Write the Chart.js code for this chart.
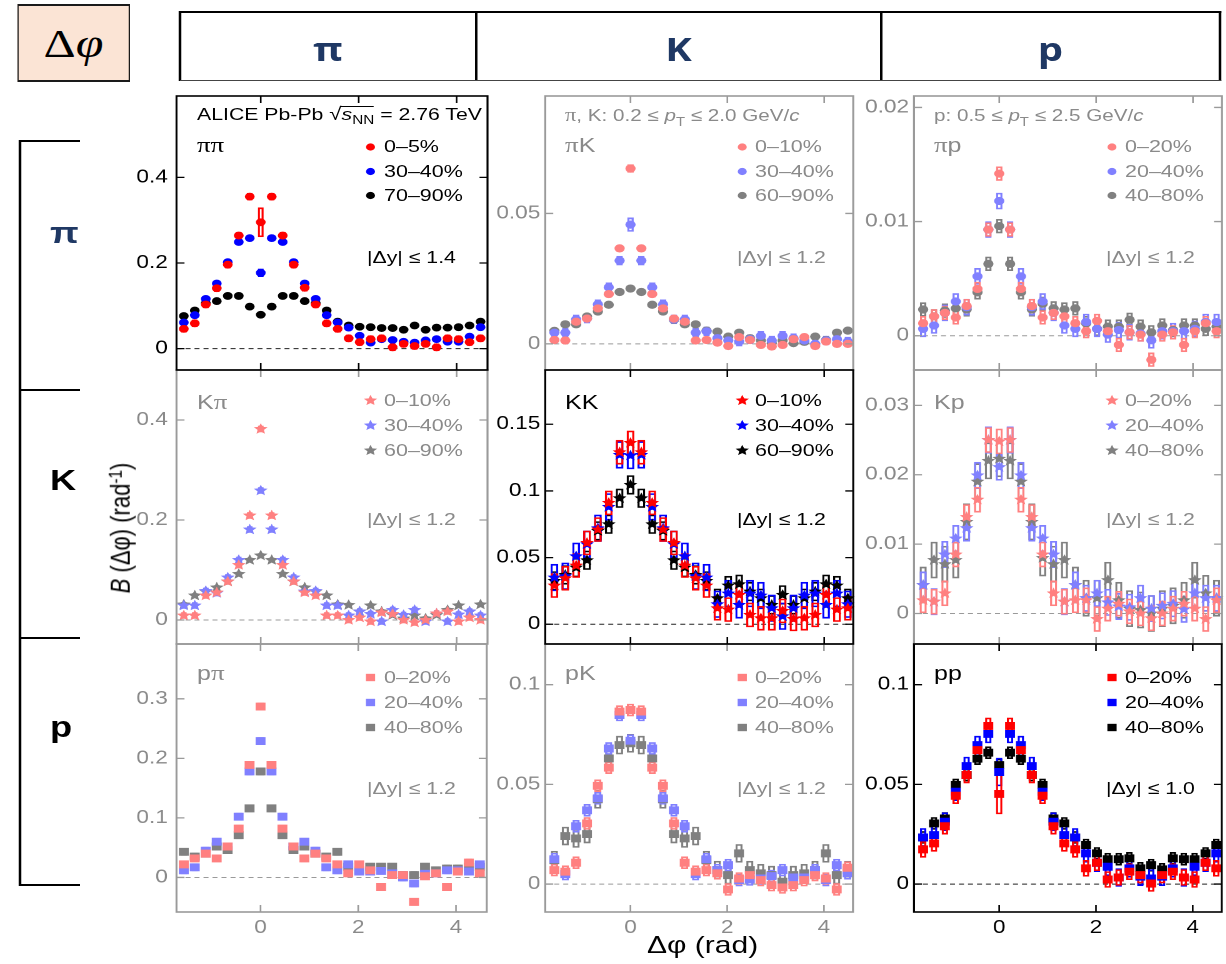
<!DOCTYPE html>
<html>
<head>
<meta charset="utf-8">
<script src="https://cdn.jsdelivr.net/npm/chart.js@4.4.1/dist/chart.umd.min.js"></script>
<style>
  html, body { margin: 0; padding: 0; background: #fff; }
  body { width: 1226px; height: 964px; overflow: hidden; position: relative; }
  #stage { position: absolute; left: 0; top: 0; width: 980.8px; height: 964px;
           transform: scaleX(1.25); transform-origin: 0 0;
           font-family: "Liberation Sans", Arial, sans-serif; }
  .abs { position: absolute; white-space: nowrap; z-index: 5; }
  canvas { position: absolute; }
  .sym { font-family: "Liberation Serif", serif; font-size: 1.08em; }
  .sub { position: relative; top: 0.3em; font-size: 0.72em; }
  .ov { position: relative; }
  .ov::before { content: ""; position: absolute; left: -1px; right: 0; top: 0.04em; border-top: 1.3px solid currentColor; }
  .line { position: absolute; background: #000; }
</style>
</head>
<body>
<div id="stage"></div>
<script>
// ---- bin centres in Δφ (rad) and axis ticks ----
const dphi = [-1.5708, -1.3464, -1.1220, -0.8976, -0.6732, -0.4488, -0.2244, 0.0000,
               0.2244,  0.4488,  0.6732,  0.8976,  1.1220,  1.3464,  1.5708, 1.7952,
               2.0196,  2.2440,  2.4684,  2.6928,  2.9172,  3.1416,  3.3660, 3.5904,
               3.8148,  4.0392,  4.2636,  4.4880];
const xTicks = [0, 2, 4];

// ---- centrality labels ----
const centPi = ['0–5%', '30–40%', '70–90%'];
const cent10 = ['0–10%', '30–40%', '60–90%'];
const cent20 = ['0–20%', '20–40%', '40–80%'];

// ---- ππ ----
const pipi0005 = [0.046,0.059,0.103,0.141,0.196,0.264,0.355,0.295,0.355,0.264,0.196,0.142,0.103,0.059,0.046,0.024,0.015,0.022,0.024,0.003,0.011,0.006,0.011,0.003,0.024,0.022,0.015,0.024];
const pipi3040 = [0.061,0.078,0.116,0.152,0.202,0.249,0.258,0.177,0.258,0.249,0.202,0.152,0.116,0.078,0.061,0.049,0.030,0.014,0.022,0.020,0.016,0.014,0.019,0.022,0.016,0.016,0.028,0.050];
const pipi7090 = [0.076,0.089,0.106,0.111,0.123,0.123,0.098,0.079,0.098,0.123,0.123,0.111,0.106,0.089,0.063,0.054,0.051,0.050,0.048,0.048,0.044,0.054,0.044,0.049,0.049,0.050,0.054,0.063];
// ---- πK ----
const piK0010 = [0.0015,0.0013,0.0085,0.0097,0.0136,0.0191,0.0366,0.0672,0.0366,0.0191,0.0136,0.0097,0.0085,0.0013,0.0015,0.0005,-0.0008,0.0026,0.0015,-0.0004,-0.0010,-0.0004,0.0018,0.0026,-0.0008,0.0009,0.0000,0.0000];
const piK3040 = [0.0043,0.0043,0.0094,0.0097,0.0152,0.0217,0.0319,0.0457,0.0319,0.0217,0.0152,0.0094,0.0094,0.0043,0.0048,0.0022,0.0013,0.0009,0.0018,0.0031,0.0013,0.0031,0.0022,0.0013,0.0000,0.0013,0.0018,0.0009];
const piK6090 = [0.0050,0.0075,0.0075,0.0105,0.0124,0.0150,0.0199,0.0212,0.0199,0.0150,0.0124,0.0092,0.0075,0.0075,0.0051,0.0047,0.0028,0.0043,0.0022,0.0013,0.0003,0.0013,0.0003,0.0008,0.0028,0.0015,0.0043,0.0051];
// ---- πp ----
const pip0020 = [0.0011,0.0017,0.0020,0.0016,0.0026,0.0041,0.0093,0.0142,0.0093,0.0041,0.0026,0.0016,0.0020,0.0017,0.0011,0.0004,0.0013,0.0004,-0.0008,0.0003,0.0001,-0.0021,0.0001,0.0003,-0.0008,0.0004,0.0011,0.0004];
const pip2040 = [0.0006,0.0009,0.0020,0.0030,0.0025,0.0052,0.0093,0.0118,0.0093,0.0052,0.0025,0.0030,0.0020,0.0009,0.0006,0.0012,0.0006,0.0001,0.0005,0.0003,0.0002,-0.0004,0.0004,0.0004,0.0004,0.0006,0.0012,0.0012];
const pip4080 = [0.0023,0.0017,0.0022,0.0024,0.0023,0.0038,0.0063,0.0096,0.0063,0.0038,0.0023,0.0028,0.0024,0.0023,0.0024,0.0011,0.0006,0.0008,0.0008,0.0014,0.0008,0.0003,0.0009,0.0005,0.0009,0.0009,0.0006,0.0008];
// ---- Kπ ----
const Kpi0010 = [0.009,0.009,0.049,0.055,0.077,0.110,0.209,0.382,0.209,0.110,0.077,0.055,0.049,0.009,0.009,0.000,0.005,-0.003,0.015,0.012,0.000,-0.005,0.000,0.013,0.017,-0.003,0.005,0.000];
const Kpi3040 = [0.029,0.029,0.058,0.054,0.085,0.120,0.181,0.259,0.181,0.120,0.085,0.057,0.058,0.029,0.029,0.009,0.017,0.012,-0.003,0.020,0.010,0.020,-0.003,0.013,-0.003,0.011,0.017,0.009];
const Kpi6090 = [0.031,0.049,0.057,0.065,0.077,0.092,0.120,0.129,0.120,0.092,0.077,0.065,0.057,0.049,0.031,0.030,0.017,0.029,0.017,0.010,0.003,0.009,0.003,0.010,0.020,0.029,0.017,0.031];
// ---- KK ----
const KK0010 = [0.029,0.0345,0.044,0.061,0.071,0.091,0.129,0.136,0.129,0.091,0.071,0.061,0.044,0.0345,0.029,0.012,0.011,0.022,0.007,0.0045,0.0045,0.010,0.004,0.0045,0.007,0.022,0.011,0.012];
const KK3040 = [0.035,0.036,0.051,0.060,0.072,0.088,0.127,0.1265,0.127,0.088,0.072,0.060,0.051,0.036,0.035,0.015,0.023,0.0145,0.023,0.0215,0.012,0.006,0.012,0.0215,0.023,0.0145,0.023,0.015];
const KK6090 = [0.0325,0.037,0.0425,0.048,0.070,0.075,0.0945,0.1045,0.0945,0.075,0.070,0.048,0.0425,0.037,0.0325,0.0195,0.029,0.030,0.0245,0.0195,0.0145,0.022,0.0145,0.0195,0.0245,0.030,0.029,0.0195];
// ---- Kp ----
const Kp0020 = [0.0019,0.0017,0.0029,0.0085,0.0139,0.0164,0.0250,0.0248,0.0250,0.0164,0.0139,0.0085,0.0029,0.0017,0.0019,0.0019,-0.0008,0.0007,0.0014,0.0003,0.0000,-0.0007,0.0000,0.0007,0.0014,0.0007,-0.0008,0.0019];
const Kp2040 = [0.0041,0.0017,0.0085,0.0108,0.0123,0.0199,0.0250,0.0211,0.0250,0.0199,0.0123,0.0108,0.0085,0.0017,0.0041,0.0022,0.0029,0.0016,0.0010,0.0009,0.0022,0.0007,0.0011,0.0014,0.0006,0.0029,0.0022,0.0022];
const Kp4080 = [0.0041,0.0077,0.0071,0.0077,0.0132,0.0190,0.0220,0.0223,0.0220,0.0190,0.0132,0.0080,0.0071,0.0077,0.0041,0.0022,0.0022,0.0048,0.0019,0.0007,0.0005,0.0000,0.0007,0.0011,0.0019,0.0048,0.0029,0.0022];
// ---- pπ ----
const ppi0020 = [0.022,0.032,0.040,0.032,0.052,0.082,0.189,0.287,0.189,0.082,0.052,0.032,0.040,0.032,0.022,0.007,0.022,0.012,-0.016,0.004,0.004,-0.041,0.002,0.007,-0.016,0.010,0.025,0.007];
const ppi2040 = [0.012,0.017,0.045,0.060,0.052,0.102,0.178,0.229,0.178,0.102,0.052,0.060,0.045,0.017,0.012,0.022,0.010,0.010,0.011,0.007,0.000,-0.010,0.006,0.007,0.012,0.012,0.010,0.022];
const ppi4080 = [0.043,0.035,0.040,0.052,0.046,0.071,0.116,0.178,0.116,0.071,0.046,0.052,0.040,0.035,0.043,0.018,0.012,0.018,0.018,0.018,0.004,0.004,0.018,0.012,0.015,0.015,0.018,0.018];
// ---- pK ----
const pK0020 = [0.0070,0.0062,0.0107,0.0304,0.0493,0.0584,0.0865,0.0873,0.0865,0.0584,0.0493,0.0304,0.0107,0.0062,0.0070,0.0054,-0.0027,0.0028,0.0045,0.0020,-0.0005,-0.0017,-0.0005,0.0020,0.0045,0.0028,-0.0027,0.0082];
const pK2040 = [0.0125,0.0050,0.0290,0.0370,0.0430,0.0680,0.0848,0.0719,0.0848,0.0680,0.0430,0.0370,0.0290,0.0050,0.0125,0.0070,0.0095,0.0020,0.0023,0.0028,0.0040,0.0070,0.0033,0.0033,0.0070,0.0020,0.0095,0.0054];
const pK4080 = [0.0120,0.0241,0.0229,0.0251,0.0425,0.0630,0.0697,0.0706,0.0697,0.0630,0.0425,0.0251,0.0229,0.0241,0.0120,0.0070,0.0045,0.0154,0.0070,0.0054,0.0045,0.0012,0.0045,0.0054,0.0070,0.0154,0.0045,0.0070];
// ---- pp ----
const pp0020 = [0.0174,0.0204,0.0290,0.0443,0.0547,0.0672,0.0793,0.0452,0.0793,0.0672,0.0547,0.0443,0.0290,0.0204,0.0174,0.0079,0.0107,0.0023,0.0033,0.0062,0.0045,0.0003,0.0045,0.0062,0.0033,0.0023,0.0107,0.0079];
const pp2040 = [0.0234,0.0246,0.0313,0.0463,0.0592,0.0697,0.0753,0.0562,0.0753,0.0697,0.0592,0.0463,0.0313,0.0246,0.0234,0.0154,0.0107,0.0087,0.0033,0.0079,0.0037,0.0028,0.0037,0.0079,0.0033,0.0087,0.0107,0.0154];
const pp4080 = [0.0234,0.0304,0.0329,0.0497,0.0547,0.0629,0.0659,0.0597,0.0659,0.0629,0.0547,0.0497,0.0329,0.0304,0.0234,0.0196,0.0154,0.0125,0.0125,0.0129,0.0079,0.0095,0.0074,0.0129,0.0125,0.0125,0.0154,0.0196];

// ---- systematic uncertainties (half height of the boxes), per centrality ----
const sysPiPi = [0.008, 0.006, 0.004],   sysPiPiPeak = [0.034, 0.009, 0.004];
const sysPiK  = [0.0012, 0.0017, 0.001], sysPiKPeak  = [0.0015, 0.0026, 0.001];
const sysPip  = [0.0006, 0.0007, 0.0006];
const sysKpi  = [0.006, 0.006, 0.004];
const sysKK   = [0.009, 0.010, 0.007];
const sysKp   = [0.0018, 0.0019, 0.0026];
const sysPpi  = [0.006, 0.006, 0.006];
const sysPK   = [0.003, 0.003, 0.0045];
const sysPP   = [0.004, 0.0045, 0.003],  sysPPPeak   = [0.010, 0.007, 0.003];

// ---- y-axis ticks per panel ----
const yTicksPiPi = [0, 0.2, 0.4];
const yTicksPiK  = [0, 0.05];
const yTicksPip  = [0, 0.01, 0.02];
const yTicksKpi  = [0, 0.2, 0.4];
const yTicksKK   = [0, 0.05, 0.1, 0.15];
const yTicksKp   = [0, 0.01, 0.02, 0.03];
const yTicksPpi  = [0, 0.1, 0.2, 0.3];
const yTicksPK   = [0, 0.05, 0.1];
const yTicksPP   = [0, 0.05, 0.1];

// ---------------------------------------------------------------
const S = 1.25;                       // horizontal stretch of the whole figure
const stage = document.getElementById('stage');
const colL = [177, 545, 914], colR = [488, 853, 1222];
const rowT = [96, 370, 644],  rowB = [370, 644, 912];
const xRange = [[-1.72, 4.63], [-1.76, 4.60], [-1.76, 4.60]];
const FULL  = ['#ff0000', '#0000ff', '#000000'];
const FADED = ['#ff8080', '#8080ff', '#808080'];
const GREY_TXT = '#8a8a8a';
const SANS = '"Liberation Sans", Arial, sans-serif';

const legendMarkX = [371, 742, 1112], legendTextX = [384, 755, 1125];
const pairX = [197, 565, 934], dyX = [367, 737, 1106];
const legendBase = [[153, 177.5, 201.5], [406.5, 431.5, 456.5], [683.5, 708.5, 733.5]];
const pairBase = [152, 409, 680], dyBase = [263.5, 525, 794];

const panels = [
  { row:0, col:0, hi:true,  marker:'circle', series:[pipi0005,pipi3040,pipi7090], cents:centPi, yMin:-0.05,  yMax:0.59,  yTicks:yTicksPiPi, sys:sysPiPi, sysPeak:sysPiPiPeak, pair:'<span class="sym">ππ</span>', dy:'1.4', box:4 },
  { row:0, col:1, hi:false, marker:'circle', series:[piK0010,piK3040,piK6090],    cents:cent10, yMin:-0.01,  yMax:0.095, yTicks:yTicksPiK,  sys:sysPiK,  sysPeak:sysPiKPeak,  pair:'<span class="sym">π</span>K', dy:'1.2', box:4.5 },
  { row:0, col:2, hi:false, marker:'circle', series:[pip0020,pip2040,pip4080],    cents:cent20, yMin:-0.003, yMax:0.021, yTicks:yTicksPip,  sys:sysPip,  pair:'<span class="sym">π</span>p', dy:'1.2', box:4.5 },
  { row:1, col:0, hi:false, marker:'star',   series:[Kpi0010,Kpi3040,Kpi6090],    cents:cent10, yMin:-0.048, yMax:0.5,   yTicks:yTicksKpi,  sys:sysKpi,  pair:'K<span class="sym">π</span>', dy:'1.2', box:4 },
  { row:1, col:1, hi:true,  marker:'star',   series:[KK0010,KK3040,KK6090],       cents:cent10, yMin:-0.0148,yMax:0.1907,yTicks:yTicksKK,   sys:sysKK,   pair:'KK', dy:'1.2', box:5.5 },
  { row:1, col:2, hi:false, marker:'star',   series:[Kp0020,Kp2040,Kp4080],       cents:cent20, yMin:-0.0044,yMax:0.0351,yTicks:yTicksKp,   sys:sysKp,   pair:'Kp', dy:'1.2', box:5 },
  { row:2, col:0, hi:false, marker:'rect',   series:[ppi0020,ppi2040,ppi4080],    cents:cent20, yMin:-0.058, yMax:0.392, yTicks:yTicksPpi,  sys:sysPpi,  pair:'p<span class="sym">π</span>', dy:'1.2', box:4.5 },
  { row:2, col:1, hi:false, marker:'rect',   series:[pK0020,pK2040,pK4080],       cents:cent20, yMin:-0.014, yMax:0.1204,yTicks:yTicksPK,   sys:sysPK,   pair:'pK', dy:'1.2', box:5 },
  { row:2, col:2, hi:true,  marker:'rect',   series:[pp0020,pp2040,pp4080],       cents:cent20, yMin:-0.014, yMax:0.1204,yTicks:yTicksPP,   sys:sysPP,   sysPeak:sysPPPeak, pair:'pp', dy:'1.0', box:4.5 }
];

function drawMarker(ctx, kind, x, y, r, color) {
  ctx.save();
  ctx.fillStyle = color;
  ctx.beginPath();
  if (kind === 'circle') {
    ctx.arc(x, y, r, 0, Math.PI * 2);
  } else if (kind === 'rect') {
    const h = r * Math.SQRT1_2;
    ctx.rect(x - h, y - h, 2 * h, 2 * h);
  } else {
    for (let k = 0; k < 10; k++) {
      const a = -Math.PI / 2 + k * Math.PI / 5;
      const rr = k % 2 ? r * 0.46 : r;
      ctx.lineTo(x + rr * Math.cos(a), y + rr * Math.sin(a));
    }
    ctx.closePath();
  }
  ctx.fill();
  ctx.restore();
}

// frame, inner ticks, zero line, star markers and legend symbols
const panelDecor = {
  id: 'panelDecor',
  beforeDatasetsDraw(chart, args, o) {
    const { ctx, chartArea: a, scales: { y } } = chart;
    const y0 = y.getPixelForValue(0);
    ctx.save();
    ctx.strokeStyle = o.zeroColor;
    ctx.lineWidth = 1;
    ctx.setLineDash([4, 3.2]);
    ctx.beginPath(); ctx.moveTo(a.left, y0); ctx.lineTo(a.right, y0); ctx.stroke();
    ctx.restore();
  },
  afterDatasetDraw(chart, args, o) {
    const ds = chart.data.datasets[args.index];
    if (ds.starMarker) {
      args.meta.data.forEach(pt => drawMarker(chart.ctx, 'star', pt.x, pt.y, o.markR, ds.backgroundColor));
    }
  },
  afterDatasetsDraw(chart, args, o) {
    const { ctx, chartArea: a, scales: { x, y } } = chart;
    ctx.save();
    ctx.strokeStyle = o.frameColor;
    ctx.lineWidth = 1.6;
    ctx.strokeRect(a.left, a.top, a.right - a.left, a.bottom - a.top);
    ctx.lineWidth = 1.3;
    ctx.beginPath();
    x.ticks.forEach(t => {
      const px = x.getPixelForValue(t.value);
      ctx.moveTo(px, a.top); ctx.lineTo(px, a.top + 7);
      ctx.moveTo(px, a.bottom); ctx.lineTo(px, a.bottom - 7);
    });
    y.ticks.forEach(t => {
      const py = y.getPixelForValue(t.value);
      ctx.moveTo(a.left, py); ctx.lineTo(a.left + 6.4, py);
      ctx.moveTo(a.right, py); ctx.lineTo(a.right - 6.4, py);
    });
    ctx.stroke();
    ctx.restore();
    o.legend.forEach(l => drawMarker(ctx, o.marker, a.left + l.dx, a.top + l.dy, o.legendR, l.color));
  }
};

function addText(x, base, html, size, color, opt = {}) {
  const d = document.createElement('div');
  d.className = 'abs';
  d.style.left = (x / S) + 'px';
  d.style.top = (base - 0.846 * size) + 'px';
  d.style.fontSize = size + 'px';
  d.style.lineHeight = size + 'px';
  d.style.color = color;
  if (opt.family) d.style.fontFamily = opt.family;
  if (opt.weight) d.style.fontWeight = opt.weight;
  d.innerHTML = html;
  stage.appendChild(d);
  return d;
}

function addLine(x1, y1, x2, y2, w, color) {
  const d = document.createElement('div');
  d.className = 'line';
  const vertical = x1 === x2;
  d.style.left = ((vertical ? x1 - w / 2 : x1) / S) + 'px';
  d.style.top = (vertical ? y1 : y1 - w / 2) + 'px';
  d.style.width = ((vertical ? w : x2 - x1) / S) + 'px';
  d.style.height = (vertical ? y2 - y1 : w) + 'px';
  d.style.background = color || '#000';
  stage.appendChild(d);
}

function buildPanel(p) {
  const L = colL[p.col], R = colR[p.col], T = rowT[p.row], B = rowB[p.row];
  const axisW = 64, padT = 10, padR = 6, padB = p.row === 2 ? 46 : 10;
  const yW = axisW / S, areaW = (R - L) / S;
  const cw = Math.ceil(yW + areaW + padR / S);
  const ch = padT + (B - T) + padB;
  const cv = document.createElement('canvas');
  cv.width = cw; cv.height = ch;
  cv.style.left = ((L - axisW) / S) + 'px';
  cv.style.top = (T - padT) + 'px';
  cv.style.width = cw + 'px';
  cv.style.height = ch + 'px';
  cv.style.zIndex = p.hi ? 3 : 1;
  stage.appendChild(cv);

  const cols = p.hi ? FULL : FADED;
  const txt = p.hi ? '#000' : GREY_TXT;
  const markR = p.marker === 'circle' ? (p.hi ? 3.9 : 4.1) : p.marker === 'rect' ? 5.6 : 5.8;
  const legendR = p.marker === 'circle' ? 3.6 : p.marker === 'rect' ? 5.2 : 5.6;

  const datasets = [];
  p.series.forEach((vals, k) => {
    datasets.push({
      type: 'scatter', label: p.cents[k], order: k + 1,
      data: dphi.map((x, i) => ({ x, y: vals[i] })),
      pointStyle: p.marker === 'star' ? 'circle' : p.marker,
      pointRadius: p.marker === 'star' ? 0 : markR,
      pointHoverRadius: 0, pointBorderWidth: 0,
      backgroundColor: cols[k], borderColor: cols[k],
      starMarker: p.marker === 'star'
    });
  });
  p.series.forEach((vals, k) => {
    datasets.push({
      type: 'bar', order: 10 + k, grouped: false, barThickness: p.box,
      data: dphi.map((x, i) => {
        const e = (i === 7 && p.sysPeak) ? p.sysPeak[k] : p.sys[k];
        return { x, y: [vals[i] - e, vals[i] + e] };
      }),
      backgroundColor: 'rgba(0,0,0,0)', borderColor: cols[k], borderWidth: 1, borderSkipped: false
    });
  });

  const legend = legendBase[p.row].map((b, k) => ({
    dx: (legendMarkX[p.col] - L) / S, dy: b - 6 - T, color: cols[k]
  }));

  new Chart(cv, {
    type: 'scatter',
    data: { datasets },
    options: {
      responsive: false, animation: false, devicePixelRatio: 2, events: [],
      layout: { padding: { left: 0, right: cw - yW - areaW, top: padT, bottom: 0 } },
      plugins: {
        legend: { display: false }, tooltip: { enabled: false },
        panelDecor: { frameColor: p.hi ? '#000' : '#9a9a9a', zeroColor: p.hi ? '#222' : '#9a9a9a',
                      marker: p.marker, markR, legendR, legend }
      },
      scales: {
        x: {
          type: 'linear', min: xRange[p.col][0], max: xRange[p.col][1], offset: false,
          grid: { display: false, drawTicks: false }, border: { display: false },
          ticks: { display: p.row === 2, color: txt, font: { family: SANS, size: 18 }, padding: 5,
                   maxRotation: 0, autoSkip: false, callback: v => String(v) },
          afterBuildTicks: s => { s.ticks = xTicks.map(v => ({ value: v })); },
          afterFit: s => { s.height = padB; s.paddingLeft = 0; s.paddingRight = 0; }
        },
        y: {
          type: 'linear', min: p.yMin, max: p.yMax,
          grid: { display: false, drawTicks: false }, border: { display: false },
          ticks: { color: txt, font: { family: SANS, size: 18 }, padding: p.col === 0 ? 7 : 4,
                   callback: v => String(v) },
          afterBuildTicks: s => { s.ticks = p.yTicks.map(v => ({ value: v })); },
          afterFit: s => { s.width = yW; s.paddingTop = 0; s.paddingBottom = 0; }
        }
      }
    },
    plugins: [panelDecor]
  });

  // in-panel texts
  addText(pairX[p.col], pairBase[p.row], p.pair, 20, txt);
  p.cents.forEach((c, k) => addText(legendTextX[p.col], legendBase[p.row][k], c, 17.2, txt));
  addText(dyX[p.col], dyBase[p.row], '|Δy| ≤ ' + p.dy, 17, txt);
}

panels.forEach(buildPanel);

// collision-system and kinematic annotations
addText(197, 120.5, 'ALICE Pb-Pb <span style="font-size:1.05em">√</span><span class="ov"><i>s</i><span class="sub">NN</span></span> = 2.76 TeV', 17, '#000');
addText(565, 121, '<span class="sym">π</span>, K: 0.2 ≤ <i>p</i><span class="sub" style="top:0.4em">T</span> ≤ 2.0 GeV/<i>c</i>', 16.5, GREY_TXT);
addText(934, 121, 'p: 0.5 ≤ <i>p</i><span class="sub" style="top:0.4em">T</span> ≤ 2.5 GeV/<i>c</i>', 16.5, GREY_TXT);

// axis titles
addText(647, 953, 'Δφ (rad)', 24, '#000');
const yt = document.createElement('div');
yt.className = 'abs';
yt.style.left = (123 / S) + 'px';
yt.style.top = '528px';
yt.style.fontSize = '22px';
yt.style.lineHeight = '22px';
yt.style.transform = 'translate(-50%,-50%) rotate(-90deg)';
yt.innerHTML = '<i>B</i> (Δφ) (rad<span style="position:relative;top:-0.45em;font-size:0.7em">-1</span>)';
stage.appendChild(yt);

// top-left Δφ tag
const tag = document.createElement('div');
tag.className = 'abs';
Object.assign(tag.style, {
  left: (17 / S) + 'px', top: '4px', width: (113 / S) + 'px', height: '78px',
  background: '#fbe4d5', border: '2px solid #1a1a1a', borderLeftWidth: (2 / S) + 'px', borderRightWidth: (2 / S) + 'px',
  boxSizing: 'border-box', display: 'flex', alignItems: 'center', justifyContent: 'center',
  fontFamily: '"Liberation Serif", serif', fontSize: '40px', color: '#000'
});
tag.innerHTML = '<span>Δ<i>φ</i></span>';
stage.appendChild(tag);

// column header strip
addLine(180, 12, 1221, 12, 2);
[180, 476, 881, 1220].forEach(x => addLine(x, 11, x, 81, 2));
addLine(180, 80.5, 1221, 80.5, 1, '#444');
const headers = [['π', 180, 476], ['K', 476, 881], ['p', 881, 1220]];
headers.forEach(([t, a, b]) => {
  const d = document.createElement('div');
  d.className = 'abs';
  Object.assign(d.style, {
    left: (a / S) + 'px', width: ((b - a) / S) + 'px', top: '14px', height: '68px',
    display: 'flex', alignItems: 'center', justifyContent: 'center',
    fontFamily: '"Open Sans", "Noto Sans", sans-serif', fontWeight: '700', fontSize: '32px', color: '#1f3864'
  });
  d.textContent = t;
  stage.appendChild(d);
});

// row bracket on the left
addLine(20, 140, 20, 886, 2.4);
[141, 390, 638, 885].forEach(y => addLine(20, y, 80, y, 2));
addText(50, 243, 'π', 30, '#1f3864', { weight: '700' });
addText(50, 491, 'K', 29, '#000', { weight: '700' });
addText(50, 738, 'p', 29, '#000', { weight: '700' });
</script>
</body>
</html>
